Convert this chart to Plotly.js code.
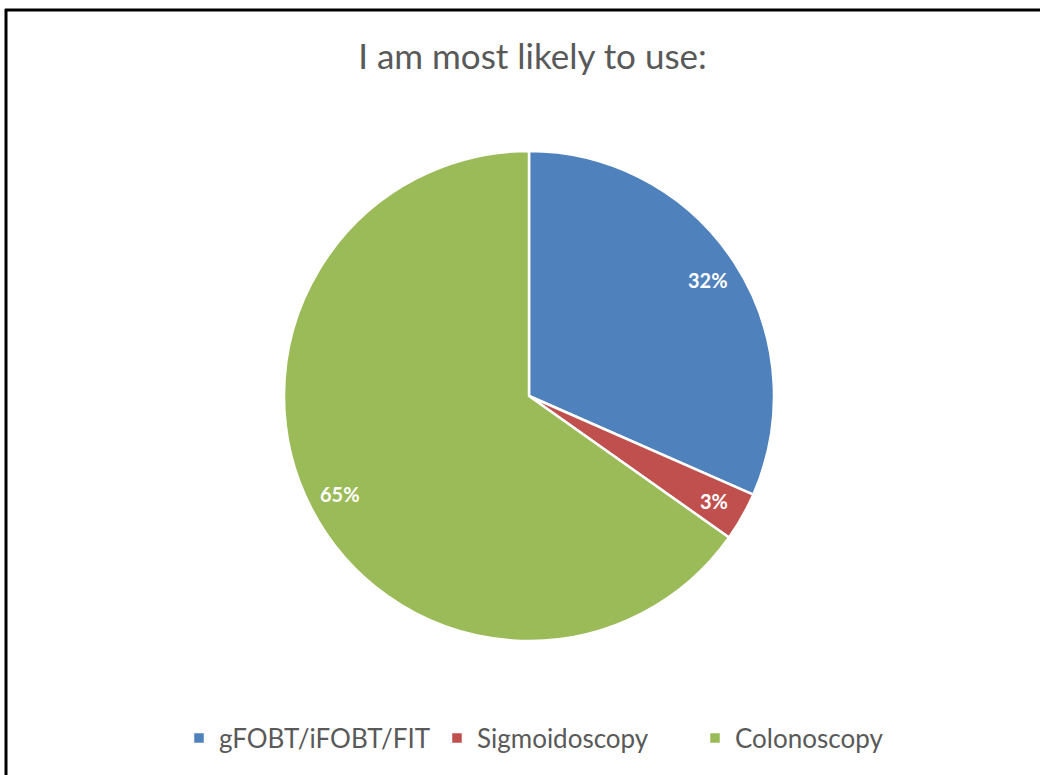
<!DOCTYPE html>
<html>
<head>
<meta charset="utf-8">
<script src="https://cdn.plot.ly/plotly-3.0.1.min.js"></script>
<style>html,body{margin:0;padding:0;background:#fff;}#chart{width:1040px;height:775px;}</style>
</head>
<body>
<div id="chart"></div>
<script>
const categories = ["gFOBT/iFOBT/FIT", "Sigmoidoscopy", "Colonoscopy"];
const shares = [31.6, 3.2, 65.2];
const sliceColors = ["#4F81BD", "#C0504D", "#9BBB59"];
const chartTitle = "I am most likely to use:";

const W = 1040, H = 775;
const cx = 529, cy = 396, R = 245;
const textColor = "#595959";
const fontFam = "Lato, 'Open Sans', sans-serif";

// label annotations along mid-angle of each slice (computed from data)
const total = shares.reduce((a, b) => a + b, 0);
let acc = 0;
const labelAnns = shares.map((v, i) => {
  const mid = (acc + v / 2) / total * 2 * Math.PI;
  acc += v;
  const px = cx + 0.87 * R * Math.sin(mid);
  const py = cy - 0.87 * R * Math.cos(mid);
  return {
    x: px / W, y: 1 - py / H, xref: "paper", yref: "paper",
    text: "<b>" + Math.round(v / total * 100) + "%</b>",
    showarrow: false, xanchor: "center", yanchor: "middle",
    font: {family: fontFam, size: 20, color: "#ffffff"}
  };
});

const trace = {
  type: "pie",
  labels: categories,
  values: shares,
  sort: false,
  direction: "clockwise",
  rotation: 0,
  textinfo: "none",
  hoverinfo: "label+percent",
  marker: {colors: sliceColors, line: {color: "#ffffff", width: 2.5}},
  domain: {x: [(cx - R) / W, (cx + R) / W], y: [1 - (cy + R) / H, 1 - (cy - R) / H]}
};

const layout = {
  width: W, height: H,
  margin: {l: 0, r: 0, t: 0, b: 0, autoexpand: false},
  paper_bgcolor: "#ffffff",
  title: {
    text: chartTitle, x: 0.512, xanchor: "center", y: 1 - 57 / H, yanchor: "middle",
    xref: "paper", yref: "paper",
    font: {family: fontFam, size: 35, color: textColor}
  },
  showlegend: true,
  legend: {
    orientation: "h", x: 179 / W, xanchor: "left", y: 1 - 738 / H, yanchor: "middle",
    font: {family: fontFam, size: 26, color: textColor},
    itemwidth: 30, traceorder: "normal", entrywidth: 213, entrywidthmode: "pixels"
  },
  annotations: labelAnns,
  shapes: [
    {type: "line", xref: "paper", yref: "paper", x0: 5 / W, x1: 1, y0: 1 - 10 / H, y1: 1 - 10 / H, line: {color: "#000", width: 3}},
    {type: "line", xref: "paper", yref: "paper", x0: 6 / W, x1: 6 / W, y0: 1 - 9 / H, y1: 0, line: {color: "#000", width: 3}}
  ]
};

Plotly.newPlot("chart", [trace], layout, {displayModeBar: false, staticPlot: true});
</script>
</body>
</html>
